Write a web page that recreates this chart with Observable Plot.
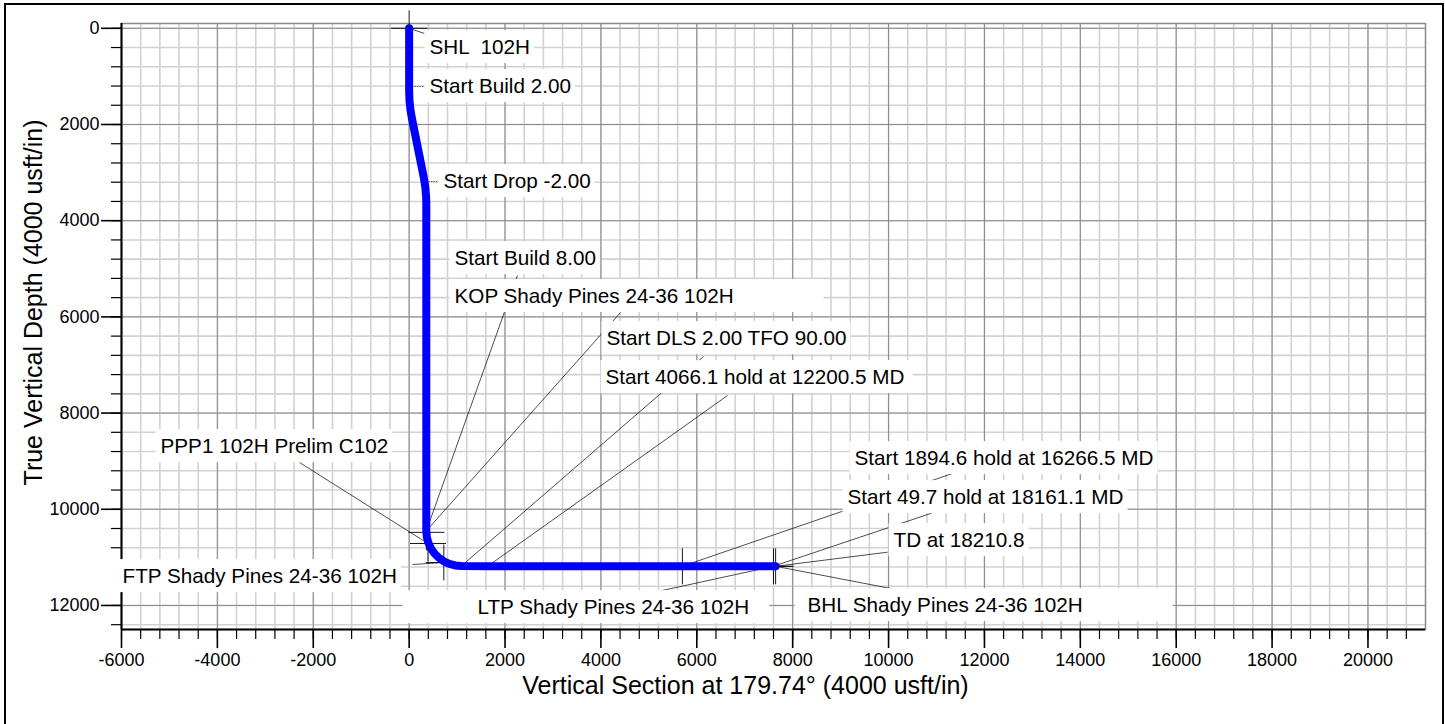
<!DOCTYPE html>
<html><head><meta charset="utf-8">
<script src="https://cdn.jsdelivr.net/npm/d3@7"></script>
<script src="https://cdn.jsdelivr.net/npm/@observablehq/plot@0.6"></script>
<style>
body{margin:0;background:#fff;}
#chart{width:1445px;height:724px;position:relative;}
</style>
</head><body><div id="chart"></div>
<script>
// ---- Well path (Vertical Section vs True Vertical Depth) ----
const pathVS  = [0, 0, 7.0, 27.9, 52.6, 305, 336.3, 353.7, 357.6, 358, 369.1, 402.0, 455.8, 528.8, 618.8, 723, 838.3, 961.3, 1088, 1640, 5700, 7594, 7644];
const pathTVD = [0, 1300, 1499.9, 1698.7, 1846.7, 3100, 3297.5, 3496.7, 3646.7, 10450, 10576.8, 10699.7, 10815, 10919.2, 11009.2, 11082.2, 11136.0, 11168.9, 11180, 11183, 11185, 11186, 11186];

// ---- Target crosses ----
const markerName = ["SHL", "KOP", "PPP1", "FTP", "Hold", "LTP", "BHL"];
const markerVS   = [0, 360, 393, 723, 5700, 7600, 7644];
const markerTVD  = [0, 10480, 10712, 11107, 11186, 11186, 11186];

// ---- Annotation labels ----
const labelText = [
  "SHL  102H", "Start Build 2.00", "Start Drop -2.00", "Start Build 8.00",
  "KOP Shady Pines 24-36 102H", "Start DLS 2.00 TFO 90.00", "Start 4066.1 hold at 12200.5 MD",
  "PPP1 102H Prelim C102", "Start 1894.6 hold at 16266.5 MD", "Start 49.7 hold at 18161.1 MD",
  "TD at 18210.8", "FTP Shady Pines 24-36 102H", "LTP Shady Pines 24-36 102H", "BHL Shady Pines 24-36 102H"
];
const labelVS  = [425, 425, 717, 946, 946, 4117, 4096, -5186, 9290, 9144, 10103, -5979, 1426, 8309];
const labelTVD = [399, 1210, 3185, 4786, 5576, 6450, 7260, 8695, 8945, 9755, 10650, 11398, 12043, 12001];

// ---- Leader lines: label end -> target ----
const leaderFromVS  = [320, 300, 591, 2260, 4409, 6140, 6641, -2287, 70, 5180, 11334, 10896, 9978, 10264];
const leaderFromTVD = [108, 1210, 3185, 5140, 5909, 6824, 7635, 9028, 11149, 11710, 9256, 10082, 10893, 11689];
const leaderToVS    = [0, 0, 320, 358, 358, 1090, 1640, 393, 723, 7600, 5700, 7594, 7644, 7644];
const leaderToTVD   = [0, 1210, 3185, 10450, 10450, 11180, 11183, 10712, 11107, 11186, 11185, 11186, 11186, 11186];
const leaderDotted  = [false, true, true, false, false, false, false, false, false, false, false, false, false, false];

// ---- Axes ----
const xTicks = [-6000, -4000, -2000, 0, 2000, 4000, 6000, 8000, 10000, 12000, 14000, 16000, 18000, 20000];
const yTicks = [0, 2000, 4000, 6000, 8000, 10000, 12000];
const xMinor = d3.range(-6000, 21000, 400);
const yMinor = d3.range(0, 12500, 400);
const xTitle = "Vertical Section at 179.74° (4000 usft/in)";
const yTitle = "True Vertical Depth (4000 usft/in)";

// extra white-box padding [left, right] for some labels
const boxExtra = {
  "KOP Shady Pines 24-36 102H": [0, 86],
  "FTP Shady Pines 24-36 102H": [22, 0],
  "LTP Shady Pines 24-36 102H": [70, 16],
  "BHL Shady Pines 24-36 102H": [8, 86],
  "Start 4066.1 hold at 12200.5 MD": [0, 4]
};

const path = pathVS.map((x, i) => ({x, y: pathTVD[i]}));
const markers = markerName.map((n, i) => ({n, x: markerVS[i], y: markerTVD[i]}));
const labels = labelText.map((t, i) => ({t, x: labelVS[i], y: labelTVD[i]}));
const leaders = leaderFromVS.map((x1, i) => ({x1, y1: leaderFromTVD[i], x2: leaderToVS[i], y2: leaderToTVD[i], dotted: leaderDotted[i]}));

const crossSymbol = {
  draw(ctx, size) {
    const r = Math.sqrt(size / Math.PI);
    ctx.moveTo(-r, 0); ctx.lineTo(r, 0);
    ctx.moveTo(0, -r); ctx.lineTo(0, r);
  }
};

const FONT = "Liberation Sans, Arial, Helvetica, sans-serif";

const chart = Plot.plot({
  width: 1445,
  height: 724,
  marginLeft: 121,
  marginRight: 20,
  marginTop: 23,
  marginBottom: 95,
  style: {fontFamily: FONT, fontSize: "18px", color: "black", background: "white", overflow: "visible"},
  x: {domain: [-6000, 21200]},
  y: {domain: [-100, 12500], reverse: true},
  marks: [
    Plot.gridX(xMinor, {stroke: "#d2d2d2", strokeOpacity: 1, strokeWidth: 1.6}),
    Plot.gridY(yMinor, {stroke: "#d2d2d2", strokeOpacity: 1, strokeWidth: 1.6}),
    Plot.gridX(xTicks, {stroke: "#8a8a8a", strokeOpacity: 1, strokeWidth: 1}),
    Plot.gridY(yTicks, {stroke: "#8a8a8a", strokeOpacity: 1, strokeWidth: 1}),
    Plot.frame({stroke: "#8a8a8a", strokeWidth: 1.5}),
    Plot.link(leaders.filter(d => !d.dotted), {x1: "x1", y1: "y1", x2: "x2", y2: "y2", stroke: "black", strokeWidth: 0.7}),
    Plot.link(leaders.filter(d => d.dotted), {x1: "x1", y1: "y1", x2: "x2", y2: "y2", stroke: "#666", strokeWidth: 1, strokeDasharray: "1.5,1"}),
    Plot.dot(markers, {x: "x", y: "y", symbol: crossSymbol, r: 18, fill: "none", stroke: "black", strokeWidth: 0.9}),
    Plot.line(path, {x: "x", y: "y", stroke: "#0000ff", strokeWidth: 8, strokeLinecap: "round", strokeLinejoin: "round"}),
    Plot.ruleX([-6000], {stroke: "black", strokeWidth: 2}),
    Plot.ruleY([12500], {stroke: "black", strokeWidth: 2}),
    Plot.axisY({ticks: yTicks, tickSize: 20, tickPadding: 2, tickFormat: d => String(d), fontSize: 18, label: null, strokeWidth: 1.6}),
    Plot.axisY({ticks: yMinor, tickSize: 10, tickFormat: null, text: null, label: null, strokeWidth: 1.2}),
    Plot.axisX({ticks: xTicks, tickSize: 19, tickPadding: 5, tickFormat: d => String(d), fontSize: 18, label: null, strokeWidth: 1.6}),
    Plot.axisX({ticks: xMinor, tickSize: 10, tickFormat: null, text: null, label: null, strokeWidth: 1.2}),
    Plot.text(labels, {x: "x", y: "y", text: "t", textAnchor: "start", fontSize: 20.7, fill: "black"}),
    Plot.text([xTitle], {frameAnchor: "bottom", dx: -28, dy: 64, fontSize: 25, fill: "black", textAnchor: "middle"}),
    Plot.text([yTitle], {frameAnchor: "left", textAnchor: "middle", rotate: -90, dx: -88, dy: -24, fontSize: 25, fill: "black"})
  ]
});

document.getElementById("chart").append(chart);

// white boxes behind annotation labels
const NS = "http://www.w3.org/2000/svg";
const labelSet = new Set(labelText);
const labelNodes = Array.from(chart.querySelectorAll("text")).filter(t => labelSet.has(t.textContent));
if (labelNodes.length) {
  const parent = labelNodes[0].parentNode;
  const first = parent.firstChild;
  labelNodes.forEach(t => {
    const b = t.getBBox();
    const ex = boxExtra[t.textContent] || [0, 0];
    const r = document.createElementNS(NS, "rect");
    r.setAttribute("x", b.x - 5 - ex[0]);
    r.setAttribute("y", b.y - 5);
    r.setAttribute("width", b.width + 9 + ex[0] + ex[1]);
    r.setAttribute("height", b.height + 10);
    r.setAttribute("fill", "white");
    r.setAttribute("stroke", "none");
    const tr = t.getAttribute("transform");
    if (tr) r.setAttribute("transform", tr);
    parent.insertBefore(r, first);
  });
}

// outer border of the sheet
const border = document.createElementNS(NS, "rect");
border.setAttribute("x", 5); border.setAttribute("y", 4);
border.setAttribute("width", 1438); border.setAttribute("height", 740);
border.setAttribute("fill", "none"); border.setAttribute("stroke", "black"); border.setAttribute("stroke-width", 2);
chart.append(border);
</script>
</body></html>
